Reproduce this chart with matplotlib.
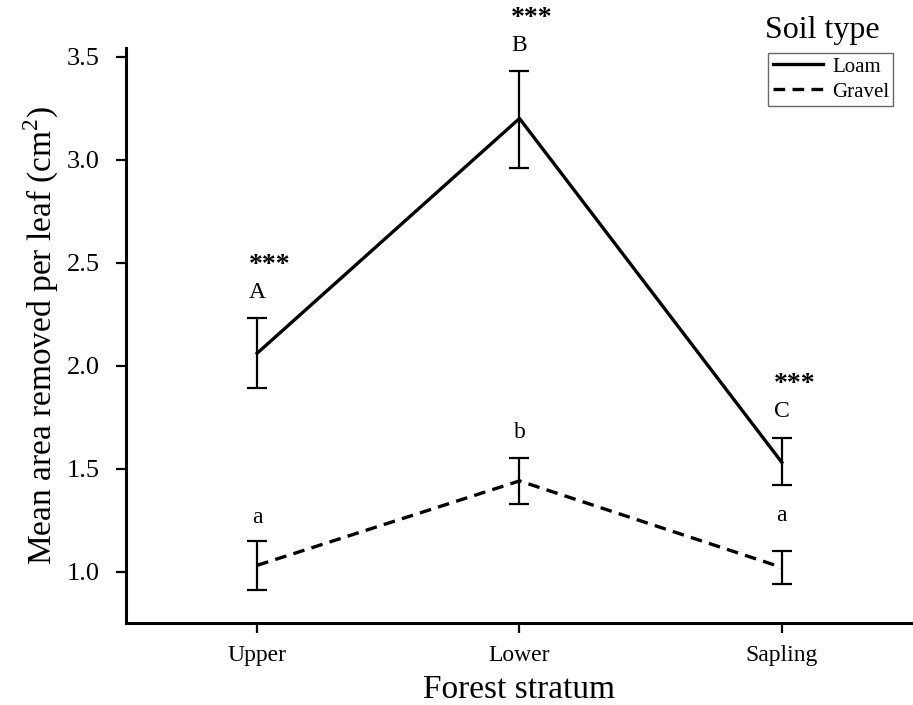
import numpy as np
import matplotlib
matplotlib.use("Agg")
import matplotlib.pyplot as plt

plt.rcParams["font.family"] = ["Liberation Serif", "DejaVu Serif"]
plt.rcParams["mathtext.fontset"] = "custom"
plt.rcParams["mathtext.rm"] = "Liberation Serif"

# 데이터
strata = ["Upper", "Lower", "Sapling"]
loam_mean = [2.06, 3.20, 1.53]
loam_lo = [1.89, 2.96, 1.42]
loam_hi = [2.23, 3.43, 1.65]
gravel_mean = [1.03, 1.44, 1.02]
gravel_lo = [0.91, 1.33, 0.94]
gravel_hi = [1.15, 1.55, 1.10]
loam_letters = ["A", "B", "C"]
loam_stars = ["***", "***", "***"]
gravel_letters = ["a", "b", "a"]

x = np.arange(len(strata))

fig = plt.figure(figsize=(9.13, 7.05), dpi=100)
ax = fig.add_axes([0.138, 0.1163, 0.862, 0.815])

loam_err = [np.array(loam_mean) - np.array(loam_lo), np.array(loam_hi) - np.array(loam_mean)]
gravel_err = [np.array(gravel_mean) - np.array(gravel_lo), np.array(gravel_hi) - np.array(gravel_mean)]

ax.plot(x, loam_mean, color="black", lw=2.4, label="Loam")
ax.plot(x, gravel_mean, color="black", lw=2.4, ls=(0, (3.5, 2.2)), label="Gravel")
ax.errorbar(x, loam_mean, yerr=loam_err, fmt="none", ecolor="black", elinewidth=1.6, capsize=7, capthick=1.6)
ax.errorbar(x, gravel_mean, yerr=gravel_err, fmt="none", ecolor="black", elinewidth=1.6, capsize=7, capthick=1.6)

# 문자 표시 (gravel 글자 간격은 그림에 맞춤)
gravel_pad = [9, 11, 18]
for i in range(len(strata)):
    ax.annotate(loam_letters[i], (x[i], loam_hi[i]), xytext=(0, 11), textcoords="offset points",
                ha="center", va="bottom", fontsize=17)
    ax.annotate(loam_stars[i], (x[i], loam_hi[i]), xytext=(9, 29), textcoords="offset points",
                ha="center", va="bottom", fontsize=20, fontweight="bold")
    ax.annotate(gravel_letters[i], (x[i], gravel_hi[i]), xytext=(0, gravel_pad[i]), textcoords="offset points",
                ha="center", va="bottom", fontsize=17)

ax.set_xlim(-0.5, 2.5)
ax.set_ylim(0.75, 3.54)
ax.set_xticks(x)
ax.set_xticklabels(strata, fontsize=17)
ax.set_yticks([1.0, 1.5, 2.0, 2.5, 3.0, 3.5])
ax.set_yticklabels(["1.0", "1.5", "2.0", "2.5", "3.0", "3.5"], fontsize=19)
ax.tick_params(axis="y", direction="out", length=7, width=1.6, pad=12)
ax.tick_params(axis="x", direction="out", length=7, width=1.6, pad=9)

for s in ["top", "right"]:
    ax.spines[s].set_visible(False)
for s in ["left", "bottom"]:
    ax.spines[s].set_linewidth(2.2)

ax.set_xlabel("Forest stratum", fontsize=24, labelpad=6)
ax.set_ylabel("Mean area removed per leaf (cm$^2$)", fontsize=24, labelpad=4)

leg = ax.legend(loc="upper right", bbox_to_anchor=(0.975, 0.992), fontsize=15, frameon=True,
                fancybox=False, edgecolor="#444444", handlelength=2.4, borderpad=0.2,
                labelspacing=0.25, handletextpad=0.45, borderaxespad=0)
leg.get_frame().set_linewidth(1.0)
fig.text(0.901, 0.957, "Soil type", fontsize=23, ha="center", va="center")

plt.savefig("out.png", dpi=100)
